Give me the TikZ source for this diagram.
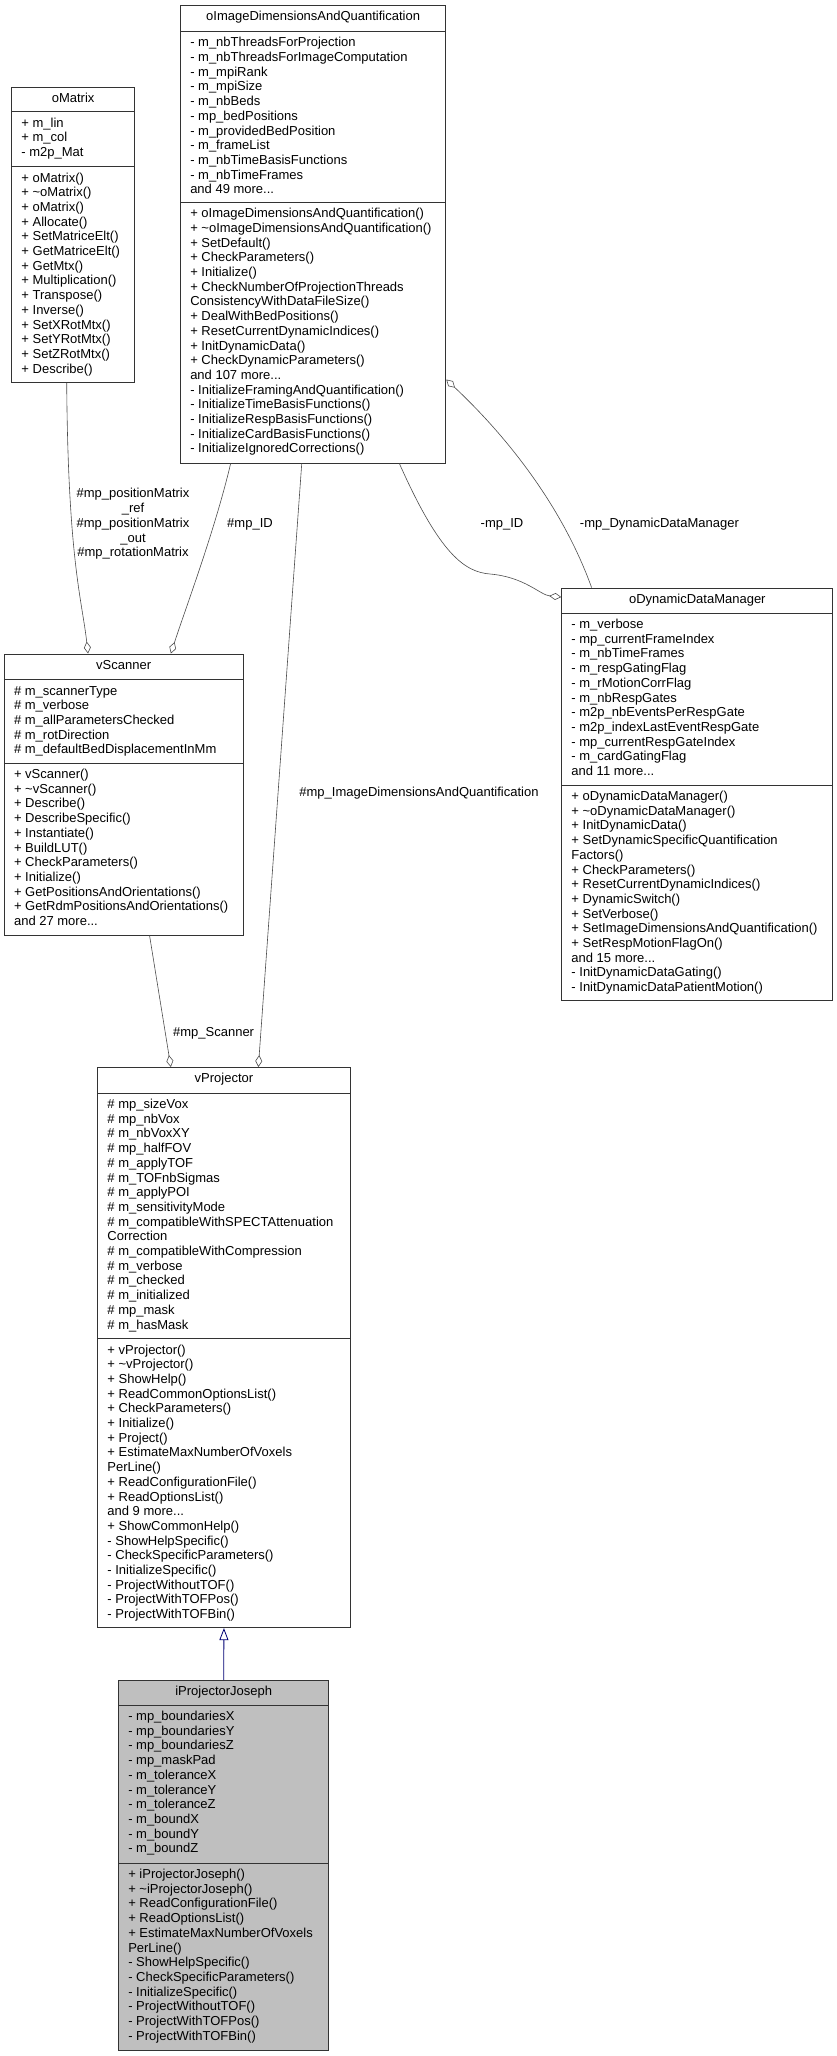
\documentclass[tikz,border=0pt]{standalone}
\usepackage{fontspec}
\setmainfont{Liberation Sans}
\usetikzlibrary{arrows.meta}
\newcommand{\mdots}{...}

\begin{document}
\begin{tikzpicture}[
    x=1pt, y=-1pt,
    classbox/.style={draw=black!80, line width=0.9pt, rectangle, inner sep=0pt, fill=white},
    classtitle/.style={anchor=base, inner sep=0pt, font=\fontsize{13}{14.7}\selectfont},
    member/.style={anchor=base west, inner sep=0pt, font=\fontsize{13}{14.7}\selectfont},
    sepline/.style={draw=black!80, line width=0.9pt},
    usage/.style={draw=black!70, line width=0.6pt, -{Diamond[open, length=12pt, width=7pt]}},
    inherit/.style={draw=blue!45!black, line width=0.8pt, -{Triangle[open, length=12pt, width=9pt]}},
    edgelabel/.style={align=center, inner sep=0pt, font=\fontsize{13}{14.7}\selectfont}
]
\useasboundingbox (0,0) rectangle (837,2056);

% Classes
\node[classbox, minimum width=122.8, minimum height=295.6] (oMatrix) at (73.1,234.8) {};
\node[classtitle] at ([yshift=-15.5pt]oMatrix.north) {oMatrix};
\draw[sepline] (oMatrix.west |- 0,111.6) -- (oMatrix.east |- 0,111.6);
\draw[sepline] (oMatrix.west |- 0,166.5) -- (oMatrix.east |- 0,166.5);
\foreach \m [count=\i from 0] in {+ m\_lin, + m\_col, - m2p\_Mat}
  \node[member] at ([xshift=10pt]oMatrix.west |- 0,{127.1+14.7*\i}) {\m};
\foreach \m [count=\i from 0] in {+ oMatrix(), + \textasciitilde oMatrix(), + oMatrix(), + Allocate(),
    + SetMatriceElt(), + GetMatriceElt(), + GetMtx(), + Multiplication(), + Transpose(),
    + Inverse(), + SetXRotMtx(), + SetYRotMtx(), + SetZRotMtx(), + Describe()}
  \node[member] at ([xshift=10pt]oMatrix.west |- 0,{182+14.7*\i}) {\m};

\node[classbox, minimum width=265.3, minimum height=457.6] (oImage) at (313.15,234.2) {};
\node[classtitle] at ([yshift=-15.5pt]oImage.north) {oImageDimensionsAndQuantification};
\draw[sepline] (oImage.west |- 0,31.3) -- (oImage.east |- 0,31.3);
\draw[sepline] (oImage.west |- 0,202.2) -- (oImage.east |- 0,202.2);
\foreach \m [count=\i from 0] in {- m\_nbThreadsForProjection, - m\_nbThreadsForImageComputation,
    - m\_mpiRank, - m\_mpiSize, - m\_nbBeds, - mp\_bedPositions, - m\_providedBedPosition,
    - m\_frameList, - m\_nbTimeBasisFunctions, - m\_nbTimeFrames, and 49 more\mdots}
  \node[member] at ([xshift=10pt]oImage.west |- 0,{46.8+14.7*\i}) {\m};
\foreach \m [count=\i from 0] in {+ oImageDimensionsAndQuantification(),
    + \textasciitilde oImageDimensionsAndQuantification(), + SetDefault(), + CheckParameters(),
    + Initialize(), + CheckNumberOfProjectionThreads, ConsistencyWithDataFileSize(),
    + DealWithBedPositions(), + ResetCurrentDynamicIndices(), + InitDynamicData(),
    + CheckDynamicParameters(), and 107 more\mdots, - InitializeFramingAndQuantification(),
    - InitializeTimeBasisFunctions(), - InitializeRespBasisFunctions(),
    - InitializeCardBasisFunctions(), - InitializeIgnoredCorrections()}
  \node[member] at ([xshift=10pt]oImage.west |- 0,{217.7+14.7*\i}) {\m};

\node[classbox, minimum width=271.2, minimum height=412.5] (oDynamic) at (697.3,794.25) {};
\node[classtitle] at ([yshift=-15.5pt]oDynamic.north) {oDynamicDataManager};
\draw[sepline] (oDynamic.west |- 0,613) -- (oDynamic.east |- 0,613);
\draw[sepline] (oDynamic.west |- 0,785) -- (oDynamic.east |- 0,785);
\foreach \m [count=\i from 0] in {- m\_verbose, - mp\_currentFrameIndex, - m\_nbTimeFrames,
    - m\_respGatingFlag, - m\_rMotionCorrFlag, - m\_nbRespGates, - m2p\_nbEventsPerRespGate,
    - m2p\_indexLastEventRespGate, - mp\_currentRespGateIndex, - m\_cardGatingFlag, and 11 more\mdots}
  \node[member] at ([xshift=10pt]oDynamic.west |- 0,{628.5+14.7*\i}) {\m};
\foreach \m [count=\i from 0] in {+ oDynamicDataManager(), + \textasciitilde oDynamicDataManager(),
    + InitDynamicData(), + SetDynamicSpecificQuantification, Factors(), + CheckParameters(),
    + ResetCurrentDynamicIndices(), + DynamicSwitch(), + SetVerbose(),
    + SetImageDimensionsAndQuantification(), + SetRespMotionFlagOn(), and 15 more\mdots,
    - InitDynamicDataGating(), - InitDynamicDataPatientMotion()}
  \node[member] at ([xshift=10pt]oDynamic.west |- 0,{800.5+14.7*\i}) {\m};

\node[classbox, minimum width=238.7, minimum height=281] (vScanner) at (123.65,794.5) {};
\node[classtitle] at ([yshift=-15.5pt]vScanner.north) {vScanner};
\draw[sepline] (vScanner.west |- 0,679.5) -- (vScanner.east |- 0,679.5);
\draw[sepline] (vScanner.west |- 0,763) -- (vScanner.east |- 0,763);
\foreach \m [count=\i from 0] in {\# m\_scannerType, \# m\_verbose, \# m\_allParametersChecked,
    \# m\_rotDirection, \# m\_defaultBedDisplacementInMm}
  \node[member] at ([xshift=10pt]vScanner.west |- 0,{695+14.7*\i}) {\m};
\foreach \m [count=\i from 0] in {+ vScanner(), + \textasciitilde vScanner(), + Describe(),
    + DescribeSpecific(), + Instantiate(), + BuildLUT(), + CheckParameters(), + Initialize(),
    + GetPositionsAndOrientations(), + GetRdmPositionsAndOrientations(), and 27 more\mdots}
  \node[member] at ([xshift=10pt]vScanner.west |- 0,{778.5+14.7*\i}) {\m};

\node[classbox, minimum width=252.5, minimum height=560.1] (vProjector) at (223.95,1347.55) {};
\node[classtitle] at ([yshift=-15.5pt]vProjector.north) {vProjector};
\draw[sepline] (vProjector.west |- 0,1093) -- (vProjector.east |- 0,1093);
\draw[sepline] (vProjector.west |- 0,1338.5) -- (vProjector.east |- 0,1338.5);
\foreach \m [count=\i from 0] in {\# mp\_sizeVox, \# mp\_nbVox, \# m\_nbVoxXY, \# mp\_halfFOV,
    \# m\_applyTOF, \# m\_TOFnbSigmas, \# m\_applyPOI, \# m\_sensitivityMode,
    \# m\_compatibleWithSPECTAttenuation, Correction, \# m\_compatibleWithCompression,
    \# m\_verbose, \# m\_checked, \# m\_initialized, \# mp\_mask, \# m\_hasMask}
  \node[member] at ([xshift=10pt]vProjector.west |- 0,{1108.5+14.7*\i}) {\m};
\foreach \m [count=\i from 0] in {+ vProjector(), + \textasciitilde vProjector(), + ShowHelp(),
    + ReadCommonOptionsList(), + CheckParameters(), + Initialize(), + Project(),
    + EstimateMaxNumberOfVoxels, PerLine(), + ReadConfigurationFile(), + ReadOptionsList(),
    and 9 more\mdots, + ShowCommonHelp(), - ShowHelpSpecific(), - CheckSpecificParameters(),
    - InitializeSpecific(), - ProjectWithoutTOF(), - ProjectWithTOFPos(), - ProjectWithTOFBin()}
  \node[member] at ([xshift=10pt]vProjector.west |- 0,{1354+14.7*\i}) {\m};

\node[classbox, fill=black!25, minimum width=210.4, minimum height=369.5] (iProjectorJoseph) at (223.7,1865.25) {};
\node[classtitle] at ([yshift=-15.5pt]iProjectorJoseph.north) {iProjectorJoseph};
\draw[sepline] (iProjectorJoseph.west |- 0,1705) -- (iProjectorJoseph.east |- 0,1705);
\draw[sepline] (iProjectorJoseph.west |- 0,1863) -- (iProjectorJoseph.east |- 0,1863);
\foreach \m [count=\i from 0] in {- mp\_boundariesX, - mp\_boundariesY, - mp\_boundariesZ,
    - mp\_maskPad, - m\_toleranceX, - m\_toleranceY, - m\_toleranceZ, - m\_boundX,
    - m\_boundY, - m\_boundZ}
  \node[member] at ([xshift=10pt]iProjectorJoseph.west |- 0,{1720.5+14.7*\i}) {\m};
\foreach \m [count=\i from 0] in {+ iProjectorJoseph(), + \textasciitilde iProjectorJoseph(),
    + ReadConfigurationFile(), + ReadOptionsList(), + EstimateMaxNumberOfVoxels, PerLine(),
    - ShowHelpSpecific(), - CheckSpecificParameters(), - InitializeSpecific(),
    - ProjectWithoutTOF(), - ProjectWithTOFPos(), - ProjectWithTOFBin()}
  \node[member] at ([xshift=10pt]iProjectorJoseph.west |- 0,{1878.5+14.7*\i}) {\m};

% Connectors
\draw[usage] ([xshift=-6.4pt]oMatrix.south) .. controls (68,560) and (82,600) .. ([xshift=-35.6pt]vScanner.north);
\draw[usage] ([xshift=-82.5pt]oImage.south) .. controls (215,530) and (185,610) .. ([xshift=47.2pt]vScanner.north);
\draw[usage] ([xshift=-11.4pt]oImage.south) -- ([xshift=34.4pt]vProjector.north);
\draw[usage] ([xshift=25.9pt]vScanner.south) -- ([xshift=-53.1pt]vProjector.north);
\draw[usage] ([xshift=86.2pt]oImage.south) .. controls (440,555) and (465,572) .. (490,574)
    .. controls (525,577) and (540,595) .. ([yshift=-9.5pt]oDynamic.north west);
\draw[usage] ([xshift=-105.7pt]oDynamic.north) .. controls (560,500) and (500,430) .. ([yshift=-145.3pt]oImage.east);
\draw[inherit] (iProjectorJoseph.north) -- (vProjector.south);

% Connector labels
\node[edgelabel] (lblMatrix) at (133,524) {\#mp\_positionMatrix\\\_ref\\\#mp\_positionMatrix\\\_out\\\#mp\_rotationMatrix};
\node[edgelabel] (lblScannerID) at (250,524) {\#mp\_ID};
\node[edgelabel] (lblImage) at (419,793) {\#mp\_ImageDimensionsAndQuantification};
\node[edgelabel] (lblScanner) at (213.6,1033.6) {\#mp\_Scanner};
\node[edgelabel] (lblDynID) at (502,524) {-mp\_ID};
\node[edgelabel] (lblDyn) at (659.4,524) {-mp\_DynamicDataManager};

\end{tikzpicture}
\end{document}
